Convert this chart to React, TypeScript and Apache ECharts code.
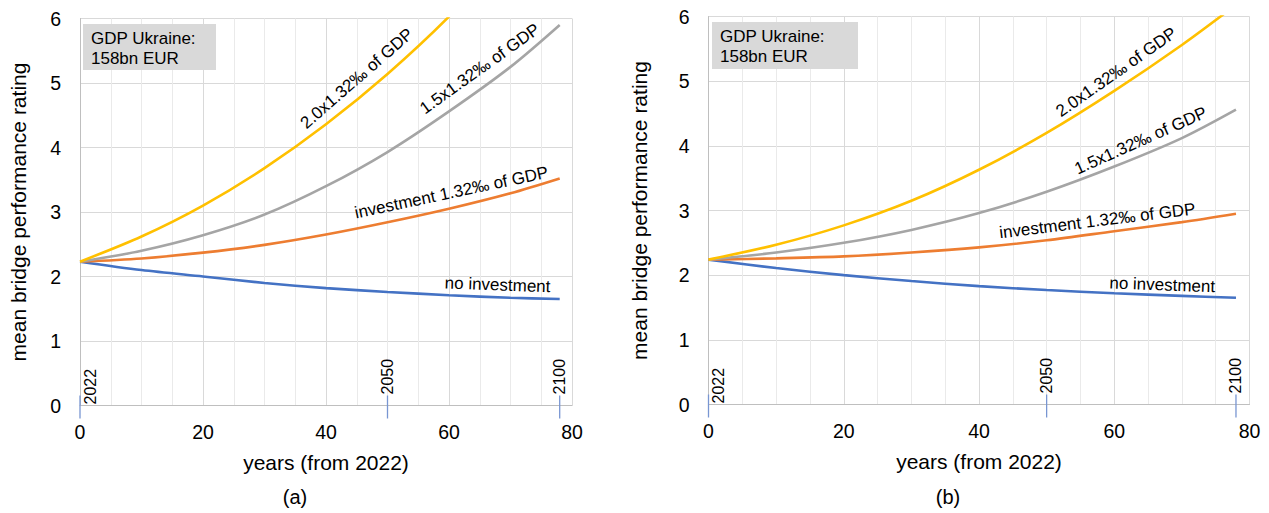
import React, { useEffect, useRef } from "react";
import * as echarts from "echarts";

const FONT = "'Liberation Sans', Arial, sans-serif";

// years after 2022
const years = [0, 10, 20, 30, 40, 50, 60, 70, 78];

// panel (a)
const aNone = [2.23, 2.1, 2.0, 1.9, 1.82, 1.76, 1.71, 1.67, 1.65];
const aBase = [2.23, 2.28, 2.37, 2.49, 2.65, 2.84, 3.05, 3.29, 3.52];
const aX15 = [2.23, 2.4, 2.64, 2.96, 3.4, 3.93, 4.56, 5.25, 5.9];
const aX20 = [2.23, 2.62, 3.1, 3.68, 4.36, 5.14, 6.03, 7.05, 7.95];

// panel (b)
const bNone = [2.24, 2.11, 2.0, 1.91, 1.83, 1.77, 1.72, 1.68, 1.65];
const bBase = [2.24, 2.26, 2.29, 2.35, 2.43, 2.54, 2.68, 2.82, 2.95];
const bX15 = [2.24, 2.35, 2.5, 2.7, 2.96, 3.29, 3.68, 4.12, 4.56];
const bX20 = [2.24, 2.47, 2.77, 3.15, 3.63, 4.2, 4.85, 5.56, 6.18];

const seriesNames = ["no investment", "investment 1.32‰ of GDP", "1.5x1.32‰ of GDP", "2.0x1.32‰ of GDP"];
const seriesColors = ["#4472C4", "#ED7D31", "#A5A5A5", "#FFC000"];

const markerYears = [0, 50, 78];
const markerLabels = ["2022", "2050", "2100"];

// curve label anchors: [x, y, angle(deg)]
const aLabels: [number, number, number][] = [
  [67.9, 1.87, -2],
  [60.4, 3.3, 12],
  [65.0, 5.22, 35.5],
  [45.0, 5.07, 41],
];
const bLabels: [number, number, number][] = [
  [67.1, 1.85, -2],
  [57.5, 2.84, 7],
  [63.9, 4.08, 24],
  [60.3, 5.14, 35],
];

const panelNames = ["(a)", "(b)"];
const boxText = "GDP Ukraine:\n158bn EUR";

export default function App() {
  const ref = useRef<HTMLDivElement>(null);
  useEffect(() => {
    document.body.style.margin = "0";
    const chart = echarts.init(ref.current!, null, { renderer: "svg" });
    const grids = [
      { left: 80, top: 18.5, width: 492, height: 387 },
      { left: 708.5, top: 16.5, width: 541, height: 388 },
    ];
    const panels = [
      { data: [aNone, aBase, aX15, aX20], labels: aLabels },
      { data: [bNone, bBase, bX15, bX20], labels: bLabels },
    ];
    const xAxes = grids.map((_, g) => ({
      type: "value",
      gridIndex: g,
      min: 0,
      max: 80,
      interval: 20,
      axisLine: { show: true, lineStyle: { color: "#BFBFBF", width: 1 } },
      axisTick: { show: false },
      axisLabel: { fontSize: 19.5, color: "#000", margin: 16, fontFamily: FONT },
      splitLine: { show: true, lineStyle: { color: "#D9D9D9", width: 1 } },
      minorTick: { show: false, splitNumber: 4 },
      minorSplitLine: { show: true, lineStyle: { color: "#EAEAEA", width: 1 } },
      name: "years (from 2022)",
      nameLocation: "middle",
      nameGap: 46,
      nameTextStyle: { fontSize: 21, color: "#000", fontFamily: FONT },
    }));
    const yAxes = grids.map((_, g) => ({
      type: "value",
      gridIndex: g,
      min: 0,
      max: 6,
      interval: 1,
      axisLine: { show: true, lineStyle: { color: "#BFBFBF", width: 1 } },
      axisTick: { show: false },
      axisLabel: { fontSize: 19.5, color: "#000", margin: 19, fontFamily: FONT },
      splitLine: { show: true, lineStyle: { color: "#D9D9D9", width: 1 } },
      name: "mean bridge performance rating",
      nameLocation: "middle",
      nameGap: g === 0 ? 51 : 59,
      nameTextStyle: { fontSize: 21, color: "#000", fontFamily: FONT },
    }));
    const series: any[] = [];
    panels.forEach((p, g) => {
      p.data.forEach((arr, s) => {
        series.push({
          type: "line",
          name: seriesNames[s],
          xAxisIndex: g,
          yAxisIndex: g,
          data: years.map((x, i) => [x, arr[i]]),
          smooth: 0.3,
          showSymbol: false,
          clip: true,
          lineStyle: { color: seriesColors[s], width: 2.6 },
          itemStyle: { color: seriesColors[s] },
          z: 3,
        });
      });
      series.push({
        type: "custom",
        xAxisIndex: g,
        yAxisIndex: g,
        clip: false,
        silent: true,
        z: 6,
        data: markerYears.map((x, i) => [x, 0, i]),
        renderItem: (params: any, api: any) => {
          const pt = api.coord([api.value(0), api.value(1)]);
          const i = api.value(2);
          const first = i === 0;
          return {
            type: "group",
            children: [
              {
                type: "line",
                shape: { x1: pt[0], y1: pt[1] - 10, x2: pt[0], y2: pt[1] + 13 },
                style: { stroke: "#7896D2", lineWidth: 1.3 },
              },
              {
                type: "text",
                x: pt[0] + (first ? 10 : 0),
                y: pt[1] - (first ? 1 : 11),
                rotation: Math.PI / 2,
                style: {
                  text: markerLabels[i],
                  fontSize: 16,
                  fontFamily: FONT,
                  fill: "#000",
                  align: "left",
                  verticalAlign: "middle",
                },
              },
            ],
          };
        },
      });
      series.push({
        type: "custom",
        xAxisIndex: g,
        yAxisIndex: g,
        clip: false,
        silent: true,
        z: 7,
        data: p.labels.map((l, i) => [l[0], l[1], l[2], i]),
        renderItem: (params: any, api: any) => {
          const pt = api.coord([api.value(0), api.value(1)]);
          const ang = api.value(2);
          const i = api.value(3);
          return {
            type: "text",
            x: pt[0],
            y: pt[1],
            rotation: (ang * Math.PI) / 180,
            style: {
              text: seriesNames[i],
              fontSize: 17,
              fontFamily: FONT,
              fill: "#000",
              align: "center",
              verticalAlign: "middle",
            },
          };
        },
      });
    });

    const boxes = [
      { x: 83, y: 24, w: 133, h: 46, tx: 91, ty: 28 },
      { x: 712, y: 22, w: 146, h: 47, tx: 720, ty: 26 },
    ];
    const graphic: any[] = [];
    boxes.forEach((b) => {
      graphic.push({
        type: "rect",
        left: b.x,
        top: b.y,
        shape: { width: b.w, height: b.h },
        style: { fill: "#D9D9D9" },
        z: 10,
      });
      graphic.push({
        type: "text",
        left: b.tx,
        top: b.ty,
        style: { text: boxText, fontSize: 17, lineHeight: 20, fontFamily: FONT, fill: "#000" },
        z: 11,
      });
    });
    graphic.push({
      type: "text",
      x: 295,
      y: 497,
      style: { text: panelNames[0], fontSize: 20, fontFamily: FONT, fill: "#000", align: "center", verticalAlign: "middle" },
    });
    graphic.push({
      type: "text",
      x: 948,
      y: 497,
      style: { text: panelNames[1], fontSize: 20, fontFamily: FONT, fill: "#000", align: "center", verticalAlign: "middle" },
    });

    chart.setOption({
      animation: false,
      backgroundColor: "#fff",
      textStyle: { fontFamily: FONT },
      grid: grids,
      xAxis: xAxes,
      yAxis: yAxes,
      series,
      graphic,
    });
    return () => chart.dispose();
  }, []);
  return <div ref={ref} style={{ width: 1269, height: 513 }} />;
}
